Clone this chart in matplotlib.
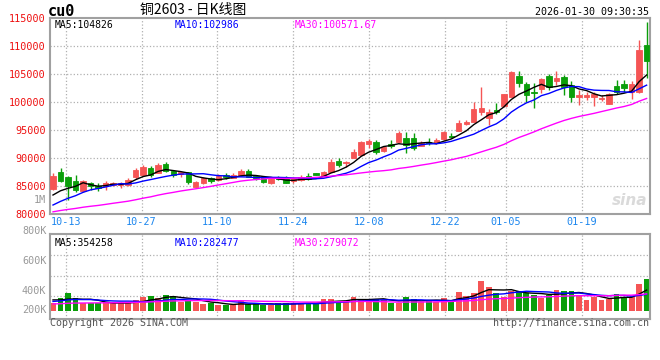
import numpy as np
import pandas as pd
import matplotlib.pyplot as plt

# cu0 daily candles, 2025-10-09 .. 2026-01-30
dates = pd.bdate_range('2025-10-09', '2026-01-30')
dates = dates[~dates.isin(pd.to_datetime(['2026-01-01', '2026-01-02']))]
labels = dates.strftime('%m-%d')

open_ = [84460, 87550, 86660, 85890, 84110, 85480, 85050, 85000, 85180, 85180,
         85180, 86550, 86960, 88160, 87270, 88930, 87680, 87200, 87450, 84880,
         85590, 86430, 86070, 86960, 86480, 86960, 87730, 86730, 86550, 85590,
         86550, 86300, 85840, 86070, 86790, 87320, 86730, 87550, 89460, 89050,
         89950, 90540, 92500, 92910, 91300, 92550, 92910, 93630, 93520, 92200,
         92860, 92630, 93340, 93980, 94820, 96070, 96380, 98160, 97090, 98570,
         99340, 100950, 104640, 103270, 101840, 102320, 104700, 103800, 104410, 102980,
         100950, 100840, 100950, 100540, 99640, 102860, 103270, 101790, 101790, 110230]
high = [87320, 88270, 86790, 86960, 86070, 85770, 85590, 85890, 85660, 85710,
        86380, 88160, 88800, 88570, 89160, 89340, 87860, 87550, 87550, 85950,
        86660, 86660, 87140, 87270, 87270, 87980, 88040, 86960, 86660, 86380,
        86790, 86790, 86380, 86960, 87380, 87320, 87730, 89820, 89950, 89460,
        91610, 93040, 93340, 93210, 92200, 93210, 94880, 94700, 94410, 93040,
        93520, 93520, 94880, 94410, 96790, 96790, 99950, 102730, 98750, 99770,
        101500, 105540, 105540, 103630, 103340, 104200, 105000, 105590, 104770, 103700,
        102200, 101790, 101790, 101300, 101610, 103980, 103980, 103700, 111130, 114340]
low = [84290, 85660, 82500, 83980, 83880, 84290, 84160, 84290, 85000, 84590,
       85000, 86200, 86840, 86660, 87270, 87450, 86660, 86660, 85360, 84880,
       85360, 85480, 85950, 86200, 86480, 86840, 86660, 86070, 85590, 85360,
       86070, 85590, 85480, 85950, 86070, 86910, 86660, 87550, 88340, 88450,
       89950, 90540, 91730, 90710, 91130, 91730, 92630, 90950, 91430, 92200,
       92320, 92500, 93210, 93520, 94820, 95890, 96380, 97680, 95890, 97800,
       99160, 100840, 102730, 100050, 98880, 101660, 102140, 103090, 101200, 100000,
       99520, 100410, 99230, 100120, 99640, 101430, 101790, 100590, 101610, 104290]
close = [86790, 85890, 85050, 84290, 85890, 85000, 84590, 85590, 85540, 85590,
         86070, 87860, 88390, 86960, 88750, 87730, 86960, 87450, 85710, 85770,
         86380, 85950, 86840, 86550, 86960, 87730, 86660, 86480, 85660, 86250,
         86300, 85590, 86200, 86610, 86250, 86960, 87500, 89290, 88750, 89340,
         91130, 92910, 93040, 91130, 92020, 92140, 94410, 92320, 91840, 92730,
         92630, 93210, 94590, 93800, 96300, 96380, 98750, 98880, 98270, 98270,
         101430, 105410, 103450, 101250, 101550, 104110, 102650, 104290, 102680, 100840,
         101200, 101200, 101430, 100710, 101430, 101790, 102500, 103210, 109230, 107380]
volume = [129, 213, 307, 213, 129, 129, 129, 156, 129, 129,
          129, 185, 230, 252, 213, 269, 252, 156, 185, 156,
          118, 139, 101, 96, 96, 168, 118, 118, 101, 101,
          129, 129, 139, 129, 129, 129, 202, 202, 168, 156,
          235, 202, 202, 202, 185, 129, 129, 235, 202, 156,
          168, 156, 218, 168, 324, 252, 307, 504, 408, 307,
          240, 336, 341, 307, 269, 213, 269, 353, 341, 341,
          252, 185, 230, 185, 202, 286, 240, 240, 454, 538]  # thousand lots

# sessions before the window, estimated from where the MA lines start
hist_close = [78900, 79200, 79100, 79400, 79800, 80200, 79900, 79600, 80100, 80400,
              80200, 80000, 79700, 79500, 79800, 80300, 80100, 79600, 79900, 80000,
              79400, 79500, 79700, 79900, 80600, 82100, 82840, 82500, 82720]
hist_volume = [95, 88, 102, 110, 97, 92, 105, 99, 90, 86,
               94, 101, 108, 96, 89, 93, 99, 104, 112, 98,
               120, 135, 150, 142, 128, 210, 245, 190, 160]

tick_dates = ['10-13', '10-27', '11-10', '11-24', '12-08', '12-22', '01-05', '01-19']

open_ = np.array(open_); high = np.array(high); low = np.array(low)
close = np.array(close); volume = np.array(volume) * 1000.0
n = len(close)
x = np.arange(n)

def ma(hist, vals, k):
    s = pd.Series(np.concatenate([hist, vals]))
    return s.rolling(k).mean().values[len(hist):]

ma5, ma10, ma30 = (ma(hist_close, close, k) for k in (5, 10, 30))
vhist = np.array(hist_volume) * 1000.0
vma5, vma10, vma30 = (ma(vhist, volume, k) for k in (5, 10, 30))

RED, GREEN = '#F55555', '#0A9E0A'
up = close >= open_
colors = np.where(up, RED, GREEN)
mono = 'DejaVu Sans Mono'

fig = plt.figure(figsize=(6.6, 3.6), dpi=100)
ax = fig.add_axes([50/660, 1 - 214/360, 600/660, 196/360])
ax2 = fig.add_axes([50/660, 1 - 319/360, 600/660, 85/360])

# grid positions: Sina spaces them a little wider than the candles
tick_idx = np.array([list(labels).index(d) for d in tick_dates])
grid_x = tick_idx * 1.0096 - 0.33

for a in (ax, ax2):
    a.set_xlim(-0.4, n - 0.55)
    for s in a.spines.values():
        s.set_color('#A0A0A0')
        s.set_linewidth(1.5)
    for gx in grid_x:
        a.axvline(gx, color='#B0B0B0', ls=':', lw=0.9, zorder=0)

# price panel
ax.vlines(x, low, high, colors=colors, lw=1.0, zorder=2)
ax.bar(x, np.abs(close - open_), bottom=np.minimum(open_, close), width=0.72,
       color=colors, edgecolor=colors, linewidth=0.6, zorder=3)
ax.plot(x, ma5, color='black', lw=1.0, zorder=4)
ax.plot(x, ma10, color='#0000FF', lw=1.0, zorder=4)
ax.plot(x, ma30, color='#FF00FF', lw=1.0, zorder=4)
ax.set_ylim(80000, 115000)
ax.set_yticks(range(80000, 115001, 5000))
for yv in range(85000, 115000, 5000):
    ax.axhline(yv, color='#B0B0B0', ls=':', lw=0.9, zorder=0)
ax.tick_params(axis='y', length=0, pad=3, labelsize=7.3, labelcolor='#EE1111')
ax.tick_params(axis='x', length=0, pad=2, labelsize=7.3, labelcolor='#1C86EE')
ax.set_xticks(grid_x)
ax.set_xticklabels(tick_dates)
for lab in ax.get_xticklabels() + ax.get_yticklabels():
    lab.set_family(mono)

ax.text(0.008, 0.965, 'MA5:104826', transform=ax.transAxes, color='black',
        fontsize=7, family=mono, va='center')
ax.text(0.207, 0.965, 'MA10:102986', transform=ax.transAxes, color='#0000FF',
        fontsize=7, family=mono, va='center')
ax.text(0.407, 0.965, 'MA30:100571.67', transform=ax.transAxes, color='#FF00FF',
        fontsize=7, family=mono, va='center')
ax.text(0.995, 0.07, 'sina', transform=ax.transAxes, color='#DADADA', fontsize=11,
        style='italic', weight='bold', ha='right', va='center')

# volume panel
ax2.bar(x, volume, width=0.78, color=colors, linewidth=0, zorder=2)
ax2.plot(x, vma5, color='black', lw=1.0, zorder=3)
ax2.plot(x, vma10, color='#0000FF', lw=1.0, zorder=3)
ax2.plot(x, vma30, color='#FF00FF', lw=1.0, zorder=3)
ax2.set_ylim(-134000, 1294000)
ax2.set_yticks([])
ax2.set_xticks([])
for frac in (0.753, 0.506, 0.271):
    ax2.axhline(-134000 + frac * 1428000, color='#B0B0B0', ls=':', lw=0.9, zorder=0)
for frac, txt in ((1.035, '800K'), (0.682, '600K'), (0.329, '400K'), (0.106, '200K')):
    ax2.text(-0.006, frac, txt, transform=ax2.transAxes, color='#999999',
             fontsize=7.3, family=mono, ha='right', va='center')
ax2.text(0.008, 0.9, 'MA5:354258', transform=ax2.transAxes, color='black',
         fontsize=7, family=mono, va='center')
ax2.text(0.207, 0.9, 'MA10:282477', transform=ax2.transAxes, color='#0000FF',
         fontsize=7, family=mono, va='center')
ax2.text(0.407, 0.9, 'MA30:279072', transform=ax2.transAxes, color='#FF00FF',
         fontsize=7, family=mono, va='center')

# header / footer
fig.text(48/660, 1 - 12/360, 'cu0', fontsize=11, weight='bold', family=mono, va='center')
fig.text(140/660, 1 - 10/360, '铜2603 - 日K线图', fontsize=10,
         family=['Noto Sans CJK SC', 'DejaVu Sans'], va='center')
fig.text(649/660, 1 - 12/360, '2026-01-30 09:30:35', fontsize=7.2, family=mono,
         ha='right', va='center')
fig.text(46/660, 1 - 200/360, '1M', fontsize=7.3, family=mono, color='#999999',
         ha='right', va='center')
fig.text(50/660, 1 - 323/360, 'Copyright 2026 SINA.COM', fontsize=7.2, family=mono,
         color='#555555', va='center')
fig.text(649/660, 1 - 323/360, 'http://finance.sina.com.cn', fontsize=7.2, family=mono,
         color='#555555', ha='right', va='center')

fig.savefig('out.png', dpi=100)
